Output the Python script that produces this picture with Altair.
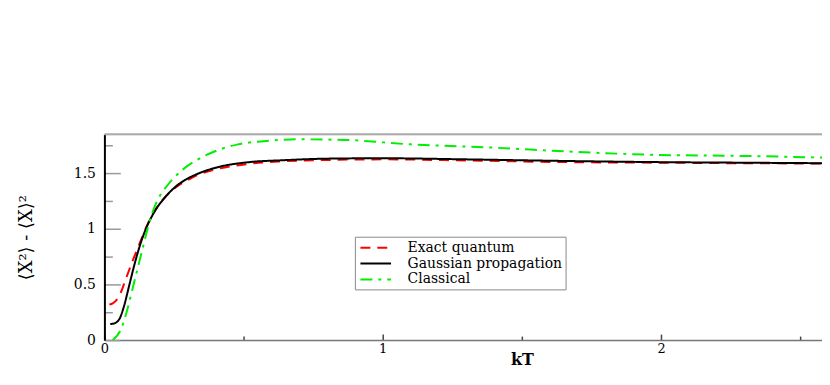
import altair as alt
import pandas as pd

# ---- data ----
exact_kT = [0.018, 0.03, 0.054, 0.077, 0.101, 0.125, 0.155, 0.185, 0.22, 0.26, 0.30, 0.34, 0.40,
            0.52, 0.64, 0.815, 1.0, 1.3, 1.67, 2.0, 2.3, 2.6]
exact_val = [0.32, 0.33, 0.40, 0.55, 0.71, 0.86, 1.04, 1.18, 1.29, 1.38, 1.44, 1.49, 1.535,
             1.585, 1.607, 1.62, 1.625, 1.615, 1.60, 1.595, 1.59, 1.588]

gauss_kT = [0.021, 0.035, 0.054, 0.071, 0.089, 0.107, 0.125, 0.149, 0.179, 0.22, 0.256, 0.29,
            0.34, 0.40, 0.52, 0.64, 0.815, 1.0, 1.3, 1.67, 2.0, 2.3, 2.6]
gauss_val = [0.144, 0.15, 0.19, 0.31, 0.49, 0.67, 0.83, 1.0, 1.15, 1.29, 1.38, 1.44,
             1.50, 1.55, 1.60, 1.617, 1.632, 1.635, 1.625, 1.61, 1.60, 1.595, 1.59]

class_kT = [0.03, 0.06, 0.083, 0.101, 0.119, 0.137, 0.155, 0.173, 0.2, 0.226, 0.25, 0.28,
            0.34, 0.40, 0.48, 0.58, 0.70, 0.86, 1.10, 1.40, 1.67, 1.99, 2.29, 2.6]
class_val = [0.0, 0.10, 0.28, 0.46, 0.64, 0.82, 1.0, 1.15, 1.30, 1.39, 1.46, 1.53,
             1.63, 1.70, 1.76, 1.79, 1.805, 1.80, 1.76, 1.73, 1.695, 1.665, 1.656, 1.64]

series_names = ["Exact quantum", "Gaussian propagation", "Classical"]
series_colors = ["#ff0000", "#000000", "#00ee00"]
series_dashes = [[10, 7], [1, 0], [12, 6, 3, 6]]

x_tick_values = [0, 0.5, 1, 1.5, 2, 2.5]
y_tick_values = [0, 0.25, 0.5, 0.75, 1, 1.25, 1.5, 1.75]

# ---- table ----
frames = []
for name, xs, ys in zip(series_names,
                        [exact_kT, gauss_kT, class_kT],
                        [exact_val, gauss_val, class_val]):
    frames.append(pd.DataFrame({"kT": xs, "val": ys, "series": name}))
df = pd.concat(frames, ignore_index=True)

W = 722
H = 207
X_MAX = W / 280.0

legend_kw = dict(title=None, orient="none", legendX=252, legendY=103,
                 symbolType="M-2.2,0H2.2", symbolSize=196, symbolStrokeWidth=2,
                 symbolOffset=10, labelOffset=24,
                 labelFont="DejaVu Serif", labelFontSize=14, labelColor="#000",
                 rowPadding=1, padding=3, strokeColor="#888",
                 fillColor="#ffffff", labelLimit=400)

lines = alt.Chart(df).mark_line(strokeWidth=2, interpolate="monotone", clip=True).encode(
    x=alt.X("kT:Q",
            scale=alt.Scale(domain=[0, X_MAX], nice=False, zero=False),
            axis=alt.Axis(values=x_tick_values, format="~g",
                          labelExpr="datum.value % 1 === 0 ? datum.label : ''",
                          labelFlush=False, labelOverlap=False,
                          labelFont="DejaVu Serif", labelFontSize=13, labelColor="#000",
                          labelPadding=9,
                          tickSize={"condition": {"test": "datum.value % 1 === 0", "value": -6}, "value": -4},
                          tickColor="#444", tickWidth=1.5,
                          domainColor="#777", domainWidth=1.5,
                          grid=False,
                          title="kT", titleFont="DejaVu Serif", titleFontSize=16,
                          titleFontWeight="bold", titleColor="#000",
                          titleX=420, titleY=20, titleBaseline="middle", titleAlign="center")),
    y=alt.Y("val:Q",
            scale=alt.Scale(domain=[0, 1.85], nice=False, zero=False),
            axis=alt.Axis(values=y_tick_values, format="~g",
                          labelExpr="datum.value % 0.5 === 0 ? datum.label : ''",
                          labelFlush=False, labelOverlap=False,
                          labelFont="DejaVu Serif", labelFontSize=14, labelColor="#000",
                          labelPadding=25,
                          tickSize={"condition": {"test": "datum.value % 0.5 === 0", "value": -16}, "value": -8},
                          tickColor="#999", tickWidth=1.5,
                          domainColor="#000", domainWidth=2,
                          grid=False,
                          title="⟨X²⟩ - ⟨X⟩²", titleFont="DejaVu Serif", titleFontSize=18,
                          titleFontWeight="normal", titleColor="#000",
                          titleX=-78, titleY=H / 2, titleAngle=270,
                          titleAlign="center", titleBaseline="middle")),
    color=alt.Color("series:N",
                    scale=alt.Scale(domain=series_names, range=series_colors),
                    sort=series_names,
                    legend=alt.Legend(**legend_kw)),
    strokeDash=alt.StrokeDash("series:N",
                              scale=alt.Scale(domain=series_names, range=series_dashes),
                              sort=series_names,
                              legend=alt.Legend(**legend_kw)),
)

top_frame = alt.Chart(pd.DataFrame({"a": [0]})).mark_rule(color="#aaaaaa", strokeWidth=2).encode(
    x=alt.value(0), x2=alt.value(W), y=alt.value(0)
)

chart = alt.layer(lines, top_frame).properties(
    width=W, height=H,
    autosize=alt.AutoSizeParams(type="none"),
    padding={"left": 97, "top": 126, "right": 0, "bottom": 30},
).configure_view(stroke=None).configure(background="white")

chart.save("out.html", embed_options={"renderer": "svg", "actions": False})
